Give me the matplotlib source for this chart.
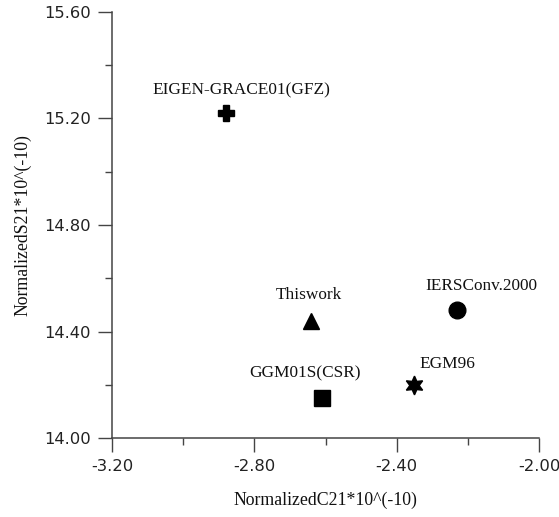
import matplotlib
matplotlib.use("Agg")
import matplotlib.pyplot as plt
from matplotlib.ticker import MultipleLocator

# Normalized C21 / S21 values (x 10^-10) for each gravity model
models = ['EIGEN-GRACE01(GFZ)', 'Thiswork', 'IERSConv.2000', 'EGM96', 'GGM01S(CSR)']
c21 = [-2.88, -2.64, -2.23, -2.35, -2.61]
s21 = [15.22, 14.44, 14.48, 14.20, 14.15]

# marker style and label offset (pixels) per model
markers = ['P', '^', 'o', (6, 1, 0), 's']
sizes = [12, 11, 12, 13.5, 11]
label_offsets = [(16, 19), (-2, 22), (24, 20), (33, 17), (-17, 21)]

fig = plt.figure(figsize=(5.59, 5.17), dpi=100)
ax = fig.add_axes([0.2004, 0.1528, 0.7638, 0.824])

for x, y, name, m, ms, off in zip(c21, s21, models, markers, sizes, label_offsets):
    ax.plot(x, y, marker=m, color='black', markersize=ms, linestyle='none')
    ax.annotate(name, (x, y), xytext=off, textcoords='offset pixels',
                ha='center', va='baseline', family='Liberation Serif', fontsize=12.4,
                color='#111111')

ax.set_xlim(-3.2, -2.0)
ax.set_ylim(14.0, 15.6)
ax.xaxis.set_major_locator(MultipleLocator(0.4))
ax.xaxis.set_minor_locator(MultipleLocator(0.2))
ax.yaxis.set_major_locator(MultipleLocator(0.4))
ax.yaxis.set_minor_locator(MultipleLocator(0.2))
ax.xaxis.set_major_formatter(plt.FormatStrFormatter('%.2f'))
ax.yaxis.set_major_formatter(plt.FormatStrFormatter('%.2f'))

for side in ['top', 'right']:
    ax.spines[side].set_visible(False)
for side in ['left', 'bottom']:
    ax.spines[side].set_color('#444444')
    ax.spines[side].set_linewidth(1.1)

ax.tick_params(axis='both', which='major', direction='out', length=9.8, width=1.0,
               color='#444444', labelsize=11.8, labelcolor='#222222', pad=5.5)
ax.tick_params(axis='both', which='minor', direction='out', length=5, width=1.0,
               color='#444444')

ax.set_xlabel('NormalizedC21*10^(-10)', family='Liberation Serif', fontsize=12.8, color='#111111')
ax.set_ylabel('NormalizedS21*10^(-10)', family='Liberation Serif', fontsize=12.8, color='#111111')
ax.xaxis.set_label_coords(0.5, -0.1455)
ax.yaxis.set_label_coords(-0.21, 0.5)
ax.xaxis.label.set_va('center')
ax.yaxis.label.set_va('center')

fig.savefig('out.png', dpi=100)
